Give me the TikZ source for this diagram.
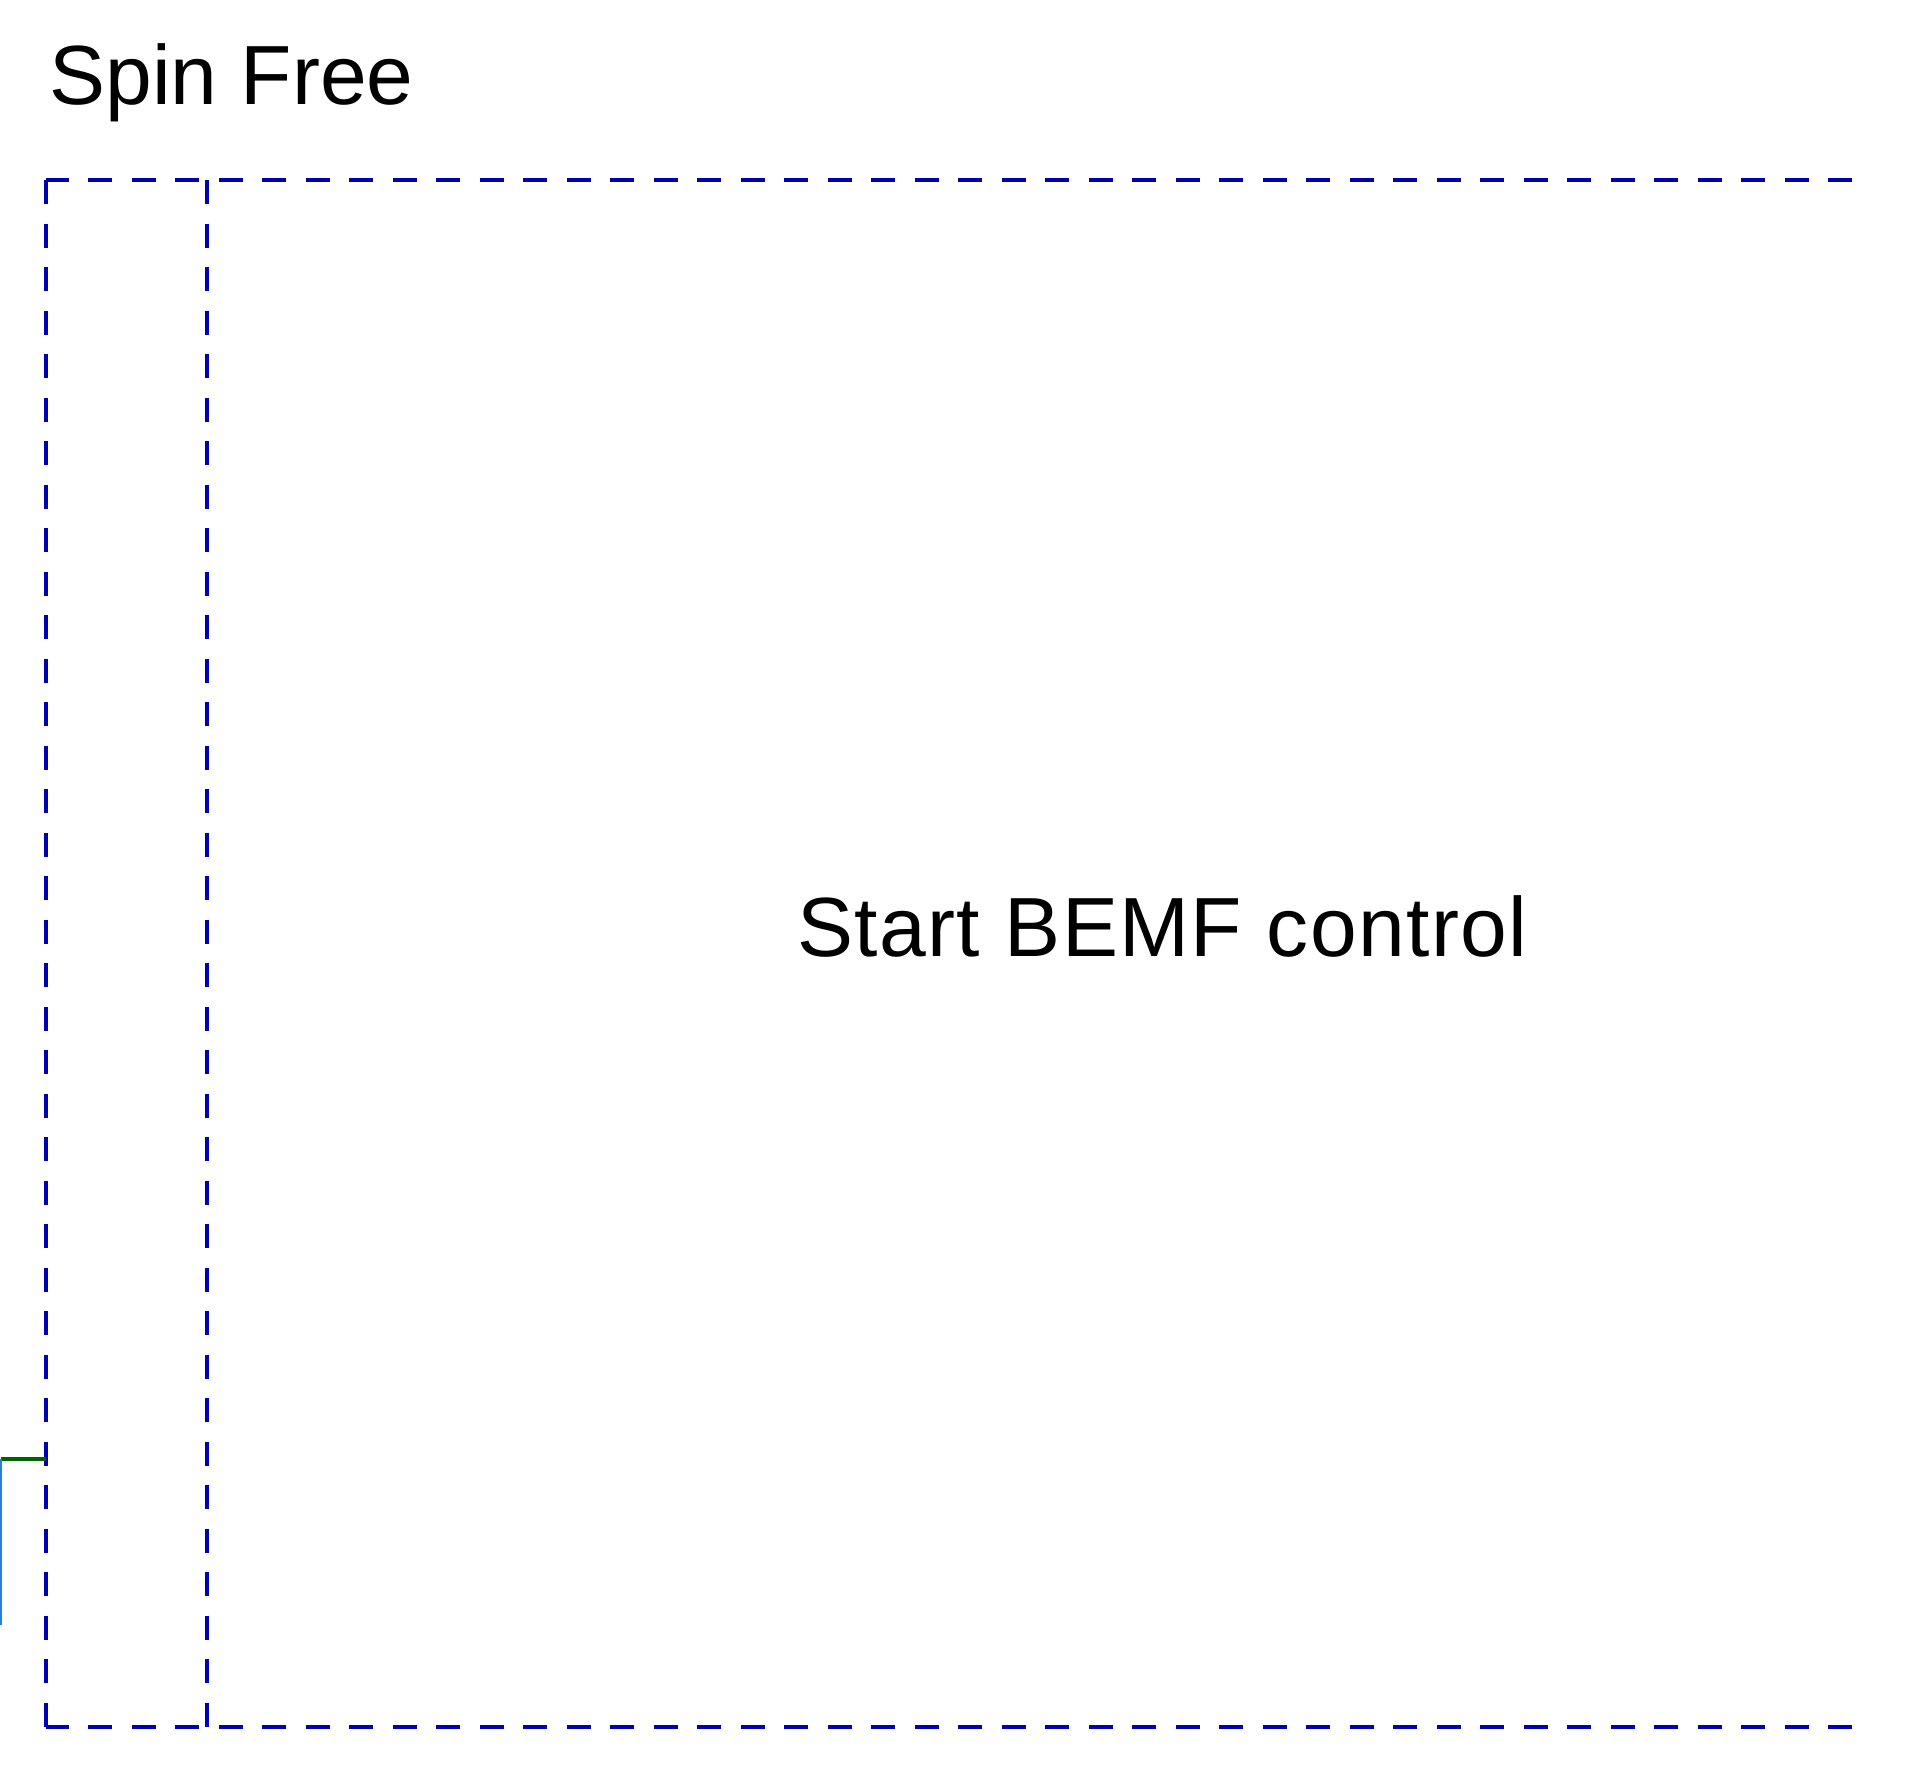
\documentclass[tikz,border=0pt]{standalone}
\usepackage{fontspec}
\setmainfont{Liberation Sans}
\usetikzlibrary{positioning}
\definecolor{phaseblue}{RGB}{0,0,178}
\definecolor{sigreen}{RGB}{0,100,0}
\definecolor{siblue}{RGB}{40,130,210}

\begin{document}
\begin{tikzpicture}[x=0.5pt,y=-0.5pt,
    phase/.style={draw=phaseblue,line width=1.8pt,dash pattern=on 12pt off 9.75pt},
    caption/.style={font=\fontsize{42}{50}\selectfont,inner sep=0pt,anchor=base west}]
\useasboundingbox (0,0) rectangle (1923,1779);
% phase frame
\coordinate (topL) at (46,180);
\coordinate (topM) at (207,180);
\coordinate (topR) at (1852,180);
\coordinate (botL) at (46,1727);
\coordinate (botM) at (207,1727);
\coordinate (botR) at (1852,1727);
\draw[phase] (topR) -- (topL);
\draw[phase] (botR) -- (botL);
\draw[phase] (topL) -- (botL);
\draw[phase] (topM) -- (botM);
% signals
\coordinate (sigA) at (1,1459);
\coordinate (sigB) at (46,1459);
\coordinate (sigC) at (1,1625);
\draw[sigreen,line width=1.8pt] (sigA) -- (sigB);
\draw[siblue,line width=1.2pt] (sigA) -- (sigC);
% labels
\node[caption] (spin) at (49,104) {Spin Free};
\node[caption] (bemf) at (797,956) {\addfontfeature{LetterSpace=1.6}Start BEMF control};
\end{tikzpicture}
\end{document}
